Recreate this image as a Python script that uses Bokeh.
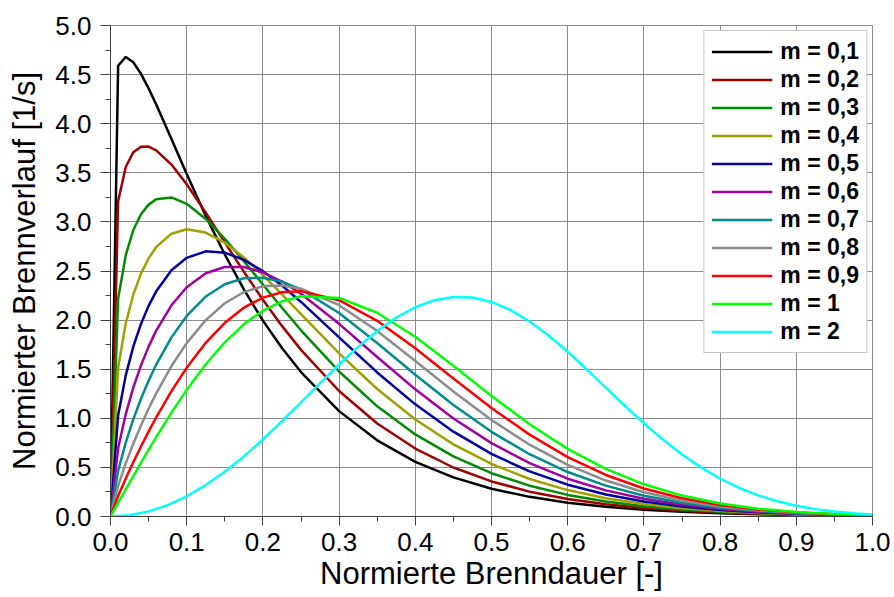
from bokeh.plotting import figure
from bokeh.models import Range1d, FixedTicker, NumeralTickFormatter, Legend, LegendItem
from bokeh.embed import file_html
from bokeh.resources import INLINE

# Normierte Brenndauer [-]
burn_duration = [0, 0.01, 0.02, 0.03, 0.04, 0.05, 0.06, 0.08, 0.1, 0.125, 0.15, 0.175,
                 0.2, 0.225, 0.25, 0.3, 0.35, 0.4, 0.45, 0.5, 0.55, 0.6, 0.65, 0.7,
                 0.75, 0.8, 0.85, 0.9, 0.95, 1.0]

# Normierter Brennverlauf [1/s] for each shape factor m
rate_m01 = [0, 4.590, 4.680, 4.625, 4.508, 4.360, 4.195, 3.843, 3.487, 3.061, 2.668, 2.312,
            1.995, 1.716, 1.471, 1.073, 0.776, 0.557, 0.398, 0.283, 0.200, 0.141, 0.099, 0.069,
            0.048, 0.033, 0.023, 0.016, 0.011, 0.008]
rate_m02 = [0, 3.211, 3.559, 3.710, 3.766, 3.767, 3.729, 3.584, 3.383, 3.094, 2.791, 2.493,
            2.207, 1.941, 1.697, 1.278, 0.947, 0.692, 0.499, 0.357, 0.253, 0.178, 0.124, 0.086,
            0.059, 0.040, 0.027, 0.018, 0.012, 0.008]
rate_m03 = [0, 2.217, 2.661, 2.918, 3.078, 3.176, 3.231, 3.249, 3.184, 3.030, 2.828, 2.600,
            2.363, 2.126, 1.896, 1.477, 1.122, 0.836, 0.612, 0.441, 0.314, 0.220, 0.153, 0.105,
            0.071, 0.048, 0.032, 0.021, 0.014, 0.009]
rate_m04 = [0, 1.516, 1.965, 2.261, 2.473, 2.629, 2.744, 2.880, 2.925, 2.891, 2.788, 2.638,
            2.459, 2.263, 2.060, 1.661, 1.298, 0.987, 0.734, 0.535, 0.382, 0.269, 0.186, 0.127,
            0.085, 0.056, 0.037, 0.024, 0.015, 0.010]
rate_m05 = [0, 1.029, 1.437, 1.732, 1.961, 2.145, 2.293, 2.507, 2.634, 2.700, 2.687, 2.614,
            2.498, 2.352, 2.185, 1.824, 1.467, 1.142, 0.864, 0.637, 0.459, 0.324, 0.224, 0.152,
            0.101, 0.066, 0.043, 0.027, 0.017, 0.010]
rate_m06 = [0, 0.694, 1.043, 1.315, 1.539, 1.730, 1.893, 2.151, 2.334, 2.477, 2.541, 2.540,
            2.487, 2.393, 2.269, 1.962, 1.624, 1.295, 0.998, 0.747, 0.543, 0.385, 0.266, 0.180,
            0.119, 0.077, 0.049, 0.030, 0.019, 0.011]
rate_m07 = [0, 0.466, 0.753, 0.991, 1.199, 1.383, 1.547, 1.824, 2.042, 2.240, 2.365, 2.426,
            2.432, 2.392, 2.313, 2.072, 1.766, 1.443, 1.135, 0.862, 0.634, 0.453, 0.314, 0.211,
            0.139, 0.089, 0.056, 0.034, 0.020, 0.012]
rate_m08 = [0, 0.312, 0.541, 0.743, 0.927, 1.097, 1.254, 1.532, 1.766, 2.000, 2.172, 2.285,
            2.344, 2.353, 2.320, 2.152, 1.890, 1.584, 1.272, 0.982, 0.731, 0.526, 0.366, 0.247,
            0.161, 0.102, 0.063, 0.038, 0.022, 0.012]
rate_m09 = [0, 0.208, 0.387, 0.554, 0.713, 0.865, 1.010, 1.277, 1.515, 1.769, 1.972, 2.126,
            2.229, 2.284, 2.295, 2.203, 1.993, 1.713, 1.406, 1.105, 0.834, 0.605, 0.423, 0.285,
            0.186, 0.117, 0.071, 0.042, 0.024, 0.013]
rate_m10 = [0, 0.138, 0.276, 0.412, 0.547, 0.679, 0.809, 1.058, 1.289, 1.550, 1.774, 1.957,
            2.096, 2.191, 2.243, 2.226, 2.075, 1.830, 1.535, 1.228, 0.940, 0.689, 0.485, 0.328,
            0.213, 0.133, 0.080, 0.046, 0.026, 0.014]

# m = 2 is read on a finer grid of its own
burn_duration_m2 = [0, 0.025, 0.05, 0.075, 0.1, 0.125, 0.15, 0.175, 0.2, 0.225, 0.25, 0.275,
                    0.3, 0.325, 0.35, 0.375, 0.4, 0.425, 0.45, 0.475, 0.5, 0.525, 0.55, 0.575,
                    0.6, 0.625, 0.65, 0.675, 0.7, 0.725, 0.75, 0.775, 0.8, 0.825, 0.85, 0.875,
                    0.9, 0.925, 0.95, 0.975, 1.0]
rate_m20 = [0, 0.013, 0.052, 0.116, 0.206, 0.320, 0.456, 0.612, 0.784, 0.970, 1.163, 1.358,
            1.548, 1.727, 1.888, 2.025, 2.131, 2.203, 2.236, 2.230, 2.185, 2.102, 1.986, 1.843,
            1.678, 1.499, 1.313, 1.128, 0.950, 0.783, 0.632, 0.500, 0.386, 0.292, 0.215, 0.155,
            0.109, 0.075, 0.050, 0.033, 0.021]

series_labels = ["m = 0,1", "m = 0,2", "m = 0,3", "m = 0,4", "m = 0,5", "m = 0,6",
                 "m = 0,7", "m = 0,8", "m = 0,9", "m = 1", "m = 2"]
series_colors = ["#000000", "#A00000", "#008C00", "#A0A000", "#0000A0", "#A000A0",
                 "#008C8C", "#8C8C8C", "#FF0000", "#00FF00", "#00FFFF"]
series_x = [burn_duration] * 10 + [burn_duration_m2]
series_values = [rate_m01, rate_m02, rate_m03, rate_m04, rate_m05, rate_m06,
                 rate_m07, rate_m08, rate_m09, rate_m10, rate_m20]

x_ticks = [0.0, 0.1, 0.2, 0.3, 0.4, 0.5, 0.6, 0.7, 0.8, 0.9, 1.0]
y_ticks = [0.0, 0.5, 1.0, 1.5, 2.0, 2.5, 3.0, 3.5, 4.0, 4.5, 5.0]
x_minor = [(a + b) / 2 for a, b in zip(x_ticks[:-1], x_ticks[1:])]
y_minor = [(a + b) / 2 for a, b in zip(y_ticks[:-1], y_ticks[1:])]

FONT = "Liberation Sans"

p = figure(width=894, height=597, x_range=Range1d(0, 1), y_range=Range1d(0, 5),
           output_backend="svg", toolbar_location=None,
           min_border_left=110, min_border_right=22, min_border_top=25, min_border_bottom=81)
p.background_fill_color = "white"
p.border_fill_color = "white"
p.outline_line_color = "#8c8c8c"
p.outline_line_width = 1

p.xaxis.ticker = FixedTicker(ticks=x_ticks, minor_ticks=x_minor)
p.yaxis.ticker = FixedTicker(ticks=y_ticks, minor_ticks=y_minor)
p.xaxis.formatter = NumeralTickFormatter(format="0.0")
p.yaxis.formatter = NumeralTickFormatter(format="0.0")

for ax in (p.xaxis, p.yaxis):
    ax.axis_line_color = "#404040"
    ax.major_tick_line_color = "#404040"
    ax.minor_tick_line_color = "#404040"
    ax.major_tick_in = 0
    ax.minor_tick_in = 0
    ax.minor_tick_out = 5
    ax.major_label_text_font = FONT
    ax.major_label_text_font_size = "26px"
    ax.major_label_text_color = "#000000"
    ax.axis_label_text_font = FONT
    ax.axis_label_text_font_size = "31px"
    ax.axis_label_text_font_style = "normal"
    ax.axis_label_text_color = "#000000"

p.xaxis.major_tick_out = 9
p.yaxis.major_tick_out = 10
p.xaxis.major_label_standoff = 7
p.yaxis.major_label_standoff = 9
p.xaxis.axis_label_standoff = 2
p.yaxis.axis_label_standoff = 10
p.xaxis.axis_label = "Normierte Brenndauer [-]"
p.yaxis.axis_label = "Normierter Brennverlauf [1/s]"

p.grid.grid_line_color = "#8c8c8c"
p.grid.grid_line_width = 1

items = []
for label, color, xs, vals in zip(series_labels, series_colors, series_x, series_values):
    r = p.line(xs, vals, line_color=color, line_width=2.5)
    items.append(LegendItem(label=label, renderers=[r]))

legend = Legend(items=items, location="top_right")
legend.margin = 5
legend.padding = 7
legend.spacing = 1
legend.glyph_width = 61
legend.glyph_height = 27
legend.label_height = 27
legend.label_standoff = 8
legend.label_text_font = FONT
legend.label_text_font_size = "23px"
legend.label_text_font_style = "bold"
legend.label_text_color = "#000000"
legend.border_line_color = "#8c8c8c"
legend.border_line_width = 1
legend.background_fill_color = "white"
legend.background_fill_alpha = 1.0
p.add_layout(legend)

open("out.html", "w").write(file_html(p, INLINE))
